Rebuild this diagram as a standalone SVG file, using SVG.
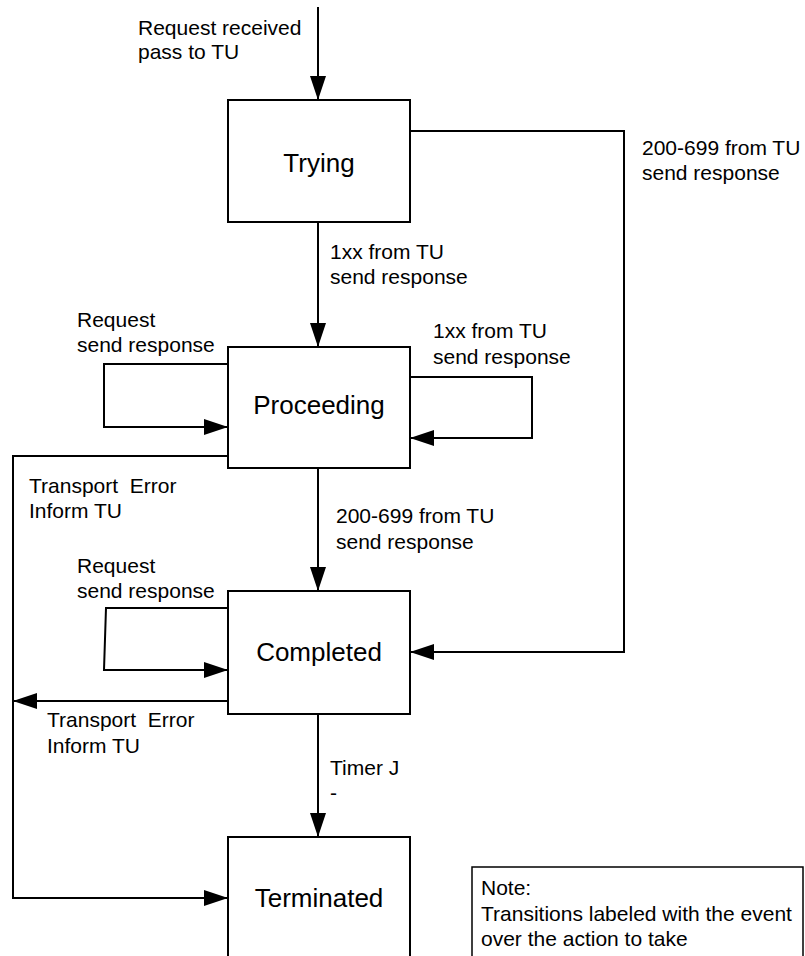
<svg xmlns="http://www.w3.org/2000/svg" width="805" height="956" viewBox="0 0 805 956">
  <defs>
    <marker id="arrow" markerUnits="userSpaceOnUse" markerWidth="26" markerHeight="18" refX="24" refY="8" orient="auto">
      <path d="M0,0 L24,8 L0,16 Z" fill="#000"/>
    </marker>
    <style>
      .state rect { fill: #fff; stroke: #000; stroke-width: 2; }
      .state text { font-family: "Liberation Sans", Arial, sans-serif; font-size: 26px; text-anchor: middle; fill: #000; }
      .edge { fill: none; stroke: #000; stroke-width: 2; marker-end: url(#arrow); }
      .label { font-family: "Liberation Sans", Arial, sans-serif; font-size: 21px; fill: #000; }
      .note rect { fill: #fff; stroke: #000; stroke-width: 1.5; }
    </style>
  </defs>
  <rect width="805" height="956" fill="#fff"/>

  <!-- transitions -->
  <g id="connectors">
    <path class="edge" d="M318,7 L318,100"/>
    <path class="edge" d="M318,222 L318,347"/>
    <path class="edge" d="M410,131 L624,131 L624,652 L410,652"/>
    <path class="edge" d="M228,364 L104,364 L104,427 L228,427"/>
    <path class="edge" d="M410,377 L532,377 L532,438 L410,438"/>
    <path class="edge" d="M228,456 L13,456 L13,898 L228,898"/>
    <path class="edge" d="M318,468 L318,591"/>
    <path class="edge" d="M228,608 L106,608 L104,670 L228,670"/>
    <path class="edge" d="M228,701 L13,701"/>
    <path class="edge" d="M318,714 L318,837"/>
  </g>

  <!-- transition labels: event over action -->
  <g id="labels" class="label">
    <text x="138" y="35">Request received</text>
    <text x="138" y="59">pass to TU</text>
    <text x="642" y="155">200-699 from TU</text>
    <text x="642" y="180">send response</text>
    <text x="330" y="259">1xx from TU</text>
    <text x="330" y="284">send response</text>
    <text x="77" y="327">Request</text>
    <text x="77" y="352">send response</text>
    <text x="433" y="338">1xx from TU</text>
    <text x="433" y="364">send response</text>
    <text x="29" y="493" xml:space="preserve">Transport  Error</text>
    <text x="29" y="518">Inform TU</text>
    <text x="336" y="523">200-699 from TU</text>
    <text x="336" y="549">send response</text>
    <text x="77" y="573">Request</text>
    <text x="77" y="598">send response</text>
    <text x="47" y="727" xml:space="preserve">Transport  Error</text>
    <text x="47" y="753">Inform TU</text>
    <text x="330" y="775">Timer J</text>
    <text x="330" y="800">-</text>
  </g>

  <!-- states -->
  <g id="trying" class="state">
    <rect x="228" y="100" width="182" height="122"/>
    <text x="319" y="172">Trying</text>
  </g>
  <g id="proceeding" class="state">
    <rect x="228" y="347" width="182" height="121"/>
    <text x="319" y="414">Proceeding</text>
  </g>
  <g id="completed" class="state">
    <rect x="228" y="591" width="182" height="123"/>
    <text x="319" y="661">Completed</text>
  </g>
  <g id="terminated" class="state">
    <rect x="228" y="837" width="182" height="130"/>
    <text x="319" y="907">Terminated</text>
  </g>

  <!-- legend -->
  <g id="note" class="note">
    <rect x="472" y="867" width="331" height="100"/>
    <text class="label" x="481" y="895">Note:</text>
    <text class="label" x="481" y="921">Transitions labeled with the event</text>
    <text class="label" x="481" y="946">over the action to take</text>
  </g>
</svg>
